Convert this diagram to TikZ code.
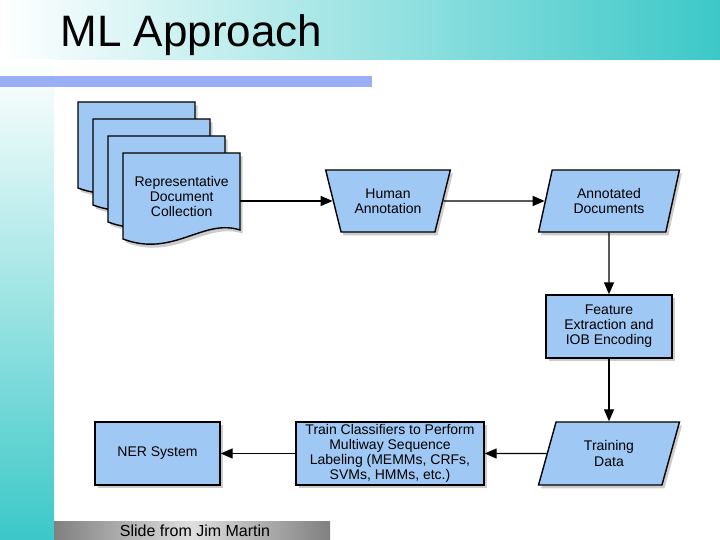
\documentclass[tikz,border=0pt]{standalone}
\usepackage{fontspec}
\setmainfont{Liberation Sans}
\usetikzlibrary{arrows.meta,calc,positioning,shapes.geometric,shadows}

\definecolor{boxblue}{RGB}{160,200,245}
\definecolor{slideteal}{RGB}{60,200,200}
\definecolor{barblue}{RGB}{153,174,245}

\tikzset{
  box/.style={draw, line width=1.4pt, fill=boxblue, align=center,
    drop shadow={shadow xshift=2.5pt, shadow yshift=-3.5pt, opacity=0.4},
    font=\fontsize{14}{15}\selectfont, inner sep=2pt},
  slant/.style={box, trapezium, trapezium left angle=73, trapezium right angle=107,
    trapezium stretches=true, minimum width=142pt, minimum height=62pt},
  flow/.style={-{Triangle[length=12pt,width=10pt]}, line width=1.4pt},
  page/.style={draw, line width=1.4pt, fill=boxblue,
    drop shadow={shadow xshift=2.5pt, shadow yshift=-3.5pt, opacity=0.4}},
  docpage/.pic={
    \path[page] (0,0) -- (117,0) -- (117,-77)
      .. controls (80,-65) and (50,-105) .. (0,-86) -- cycle;
  },
}

\begin{document}
\begin{tikzpicture}[x=1pt, y=1pt]
  \useasboundingbox (0,0) rectangle (720,540);

  % slide frame
  \shade[left color=white, right color=slideteal] (0,480) rectangle (720,540);
  \shade[top color=white, bottom color=slideteal] (0,0) rectangle (54,480);
  \fill[barblue] (0,453) rectangle (372,464);
  \shade[left color=gray, right color=gray, middle color=gray!25] (54,0) rectangle (330,18);
  \node[anchor=base west, font=\fontsize{44}{50}\selectfont] (title) at (57,493) {ML Approach};
  \node[font=\fontsize{16}{18}\selectfont] (credit) at (195,9) {Slide from Jim Martin};

  % stack of documents
  \foreach \i in {0,...,3}
    \pic at ({78+15*\i},{438-17*\i}) {docpage};
  \node[anchor=north west, align=center, font=\fontsize{14}{15}\selectfont,
    minimum width=117pt, minimum height=86pt] (docs) at (123,387)
    {Representative\\Document\\Collection};

  \node[box, trapezium, shape border rotate=180, trapezium left angle=68,
    trapezium right angle=68, trapezium stretches=true,
    minimum width=125pt, minimum height=62pt] (human) at (388,339) {Human\\Annotation};
  \node[slant] (annotated) at (609,339) {Annotated\\Documents};
  \node[box, minimum width=126pt, minimum height=63pt] (feature) at (609,213.5)
    {Feature\\Extraction and\\IOB Encoding};
  \node[slant, minimum height=63pt] (training) at (609,86.5) {Training\\Data};
  \node[box, minimum width=188pt, minimum height=63pt] (train) at (390,86.5)
    {Train Classifiers to Perform\\Multiway Sequence\\Labeling (MEMMs, CRFs,\\SVMs, HMMs, etc.)};
  \node[box, minimum width=125pt, minimum height=63pt] (ner) at (157.5,86.5) {NER System};

  \draw[flow] (docs.east |- human.west) -- (human.west);
  \draw[flow] (human.east) -- (annotated.west);
  \draw[flow] (annotated) -- (feature);
  \draw[flow] (feature) -- (training);
  \draw[flow] (training) -- (train);
  \draw[flow] (train) -- (ner);
\end{tikzpicture}
\end{document}
